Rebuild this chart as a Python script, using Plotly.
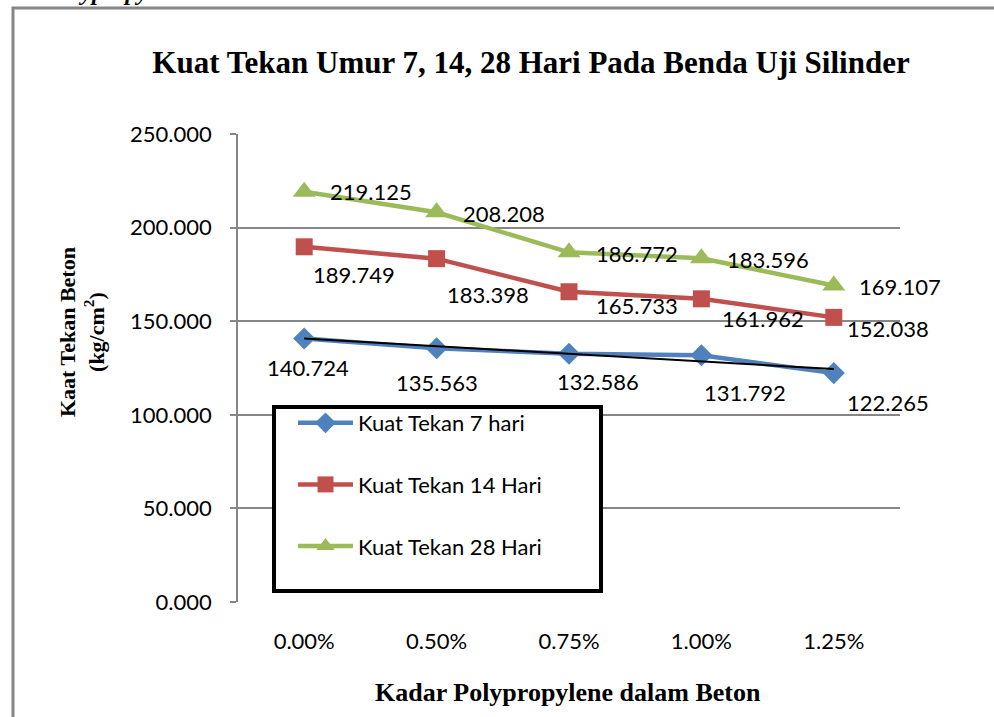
import numpy as np
import plotly.graph_objects as go

categories = ["0.00%", "0.50%", "0.75%", "1.00%", "1.25%"]
series_names = ["Kuat Tekan 7 hari", "Kuat Tekan 14 Hari", "Kuat Tekan 28 Hari"]
values_7 = [140.724, 135.563, 132.586, 131.792, 122.265]
values_14 = [189.749, 183.398, 165.733, 161.962, 152.038]
values_28 = [219.125, 208.208, 186.772, 183.596, 169.107]
y_ticks = [0, 50, 100, 150, 200, 250]

title_text = "Kuat Tekan Umur 7, 14, 28 Hari Pada Benda Uji Silinder"
x_title = "Kadar Polypropylene dalam Beton"
y_title = "Kaat Tekan Beton<br>(kg/cm<sup>2</sup>)"
caption_text = "Polypropylene"

# label offsets (px) per series, per point
label_shift_7 = [(4, -29), (0, -34), (29, -28), (44, -37), (54, -29)]
label_shift_14 = [(50, -28), (51, -36), (68, -14), (62, -20), (54, -11)]
label_shift_28 = [(67, 0), (67, -1), (68, -1), (67, -1), (66, -1)]

colors = ["#4F81BD", "#C0504D", "#9BBB59"]
symbols = ["diamond", "square", "triangle-up"]
msizes = [17, 17, 20]

W, H = 994, 717
L, R, T, B = 238, 94, 134, 115
pw, ph = W - L - R, H - T - B

def px_x(p):
    return (p - L) / pw

def px_y(p):
    return (H - B - p) / ph

serif = "Liberation Serif"
sans = "Lato"

fig = go.Figure()
all_vals = [values_7, values_14, values_28]
for i, (name, vals) in enumerate(zip(series_names, all_vals)):
    fig.add_trace(go.Scatter(
        x=categories, y=vals, name=name, mode="lines+markers",
        line=dict(color=colors[i], width=4.5),
        marker=dict(symbol=symbols[i], size=msizes[i], color=colors[i]),
        legendgroup=name,
    ))
    if i == 0:
        idx = np.arange(len(vals))
        slope, intercept = np.polyfit(idx, vals, 1)
        fig.add_trace(go.Scatter(
            x=[categories[0], categories[-1]],
            y=[intercept, intercept + slope * idx[-1]],
            mode="lines", line=dict(color="black", width=2),
            showlegend=False, hoverinfo="skip",
        ))

annotations = []
for vals, shifts in zip(all_vals, [label_shift_7, label_shift_14, label_shift_28]):
    for c, v, (dx, dy) in zip(categories, vals, shifts):
        annotations.append(dict(
            x=c, y=v, xref="x", yref="y", text=f"{v:.3f}", showarrow=False,
            xshift=dx, yshift=dy, font=dict(family=sans, size=22, color="black"),
        ))

annotations.append(dict(
    x=px_x(82), y=px_y(332), xref="paper", yref="paper", text=f"<b>{y_title}</b>",
    showarrow=False, textangle=-90, xanchor="center", yanchor="middle",
    font=dict(family=serif, size=22, color="black"),
))
annotations.append(dict(
    x=px_x(568), y=px_y(692), xref="paper", yref="paper",
    text=f"<b>{x_title}</b>", showarrow=False, xanchor="center", yanchor="middle",
    font=dict(family=serif, size=26, color="black"),
))
annotations.append(dict(
    x=px_x(45), y=px_y(-8), xref="paper", yref="paper", xanchor="left",
    yanchor="middle",
    text=f"<b><i>{caption_text}</i></b>", showarrow=False,
    font=dict(family=serif, size=24, color="black"),
))

shapes = [
    # outer frame (left and top edges visible)
    dict(type="rect", xref="paper", yref="paper",
         x0=px_x(13), y0=px_y(H + 50), x1=px_x(W + 50), y1=px_y(8),
         line=dict(color="#868686", width=3), fillcolor="rgba(0,0,0,0)", layer="below"),
    # legend box
    dict(type="rect", xref="paper", yref="paper",
         x0=px_x(274), y0=px_y(591), x1=px_x(601), y1=px_y(407),
         line=dict(color="black", width=4), fillcolor="white", layer="above"),
]

fig.update_layout(
    width=W, height=H,
    margin=dict(l=L, r=R, t=T, b=B),
    paper_bgcolor="white", plot_bgcolor="white",
    title=dict(text=f"<b>{title_text}</b>", x=531 / W, xanchor="center",
               y=1 - 62 / H, yanchor="middle",
               font=dict(family=serif, size=31, color="black")),
    xaxis=dict(type="category", categoryarray=categories, range=[-0.5, 4.5],
               showgrid=False, showline=False, ticks="",
               tickfont=dict(family=sans, size=22, color="black"),
               ticklabelstandoff=24, zeroline=False),
    yaxis=dict(range=[0, 250], tickvals=y_ticks, tickformat=".3f",
               showgrid=True, gridcolor="#868686", gridwidth=1.5,
               showline=True, linecolor="#868686", linewidth=1.5,
               ticks="outside", ticklen=6, tickcolor="#868686", tickwidth=1.5,
               tickfont=dict(family=sans, size=22, color="black"),
               ticklabelstandoff=14, zeroline=False),
    legend=dict(x=px_x(293), y=px_y(402), xanchor="left", yanchor="top",
                bgcolor="rgba(0,0,0,0)", borderwidth=0,
                font=dict(family=sans, size=22, color="black"),
                tracegroupgap=30, traceorder="grouped", itemwidth=55),
    annotations=annotations,
    shapes=shapes,
    showlegend=True,
)

fig.write_html("out.html", config={"displayModeBar": False},
               post_script="document.body.style.margin='0';")
